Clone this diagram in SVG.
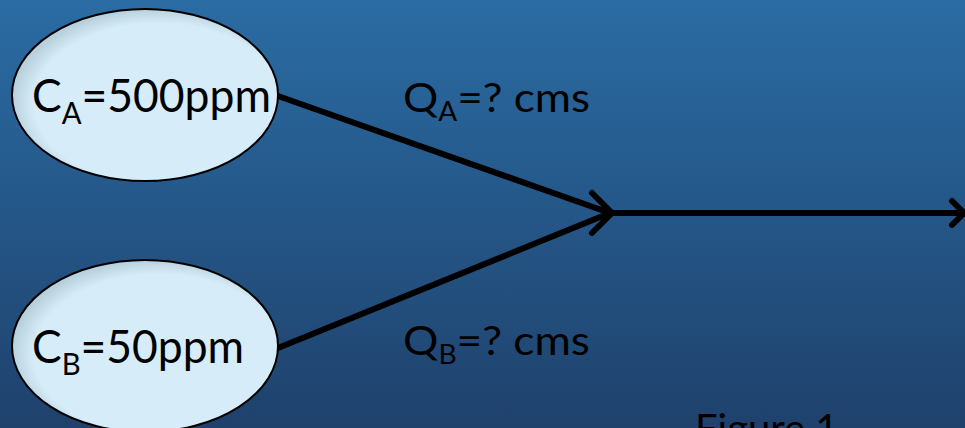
<svg xmlns="http://www.w3.org/2000/svg" width="965" height="428" viewBox="0 0 965 428">
<defs>
<linearGradient id="bg" x1="0" y1="0" x2="0" y2="1">
<stop offset="0" stop-color="#2a6ca3"/>
<stop offset="1" stop-color="#1f416c"/>
</linearGradient>
<radialGradient id="ef" cx="0.55" cy="0.55" r="0.55">
<stop offset="0.85" stop-color="#d6edf9"/>
<stop offset="1" stop-color="#b9d0dd"/>
</radialGradient>
<style>
.node{fill:url(#ef);stroke:#000;stroke-width:2}
.t{font-family:"Lato","Open Sans","Liberation Sans",sans-serif;fill:#000}
.big{font-size:47px}
.lab{font-size:41px}
.ln{stroke:#000;stroke-width:6;fill:none;stroke-linecap:round;stroke-linejoin:round}
</style>
</defs>
<rect width="965" height="428" fill="url(#bg)"/>
<g id="connectors">
<line class="ln" x1="278" y1="96" x2="610" y2="213"/>
<line class="ln" x1="278" y1="348" x2="610" y2="213"/>
<polyline class="ln" points="592,193 612,213 592,233"/>
<line class="ln" x1="612" y1="213" x2="965" y2="213"/>
<polyline class="ln" points="952,201 964,213 952,225"/>
</g>
<g id="nodeA">
<ellipse class="node" cx="145" cy="95" rx="133" ry="86"/>
<text class="t big" x="32" y="112" textLength="239" lengthAdjust="spacingAndGlyphs">C<tspan font-size="31" dy="12">A</tspan><tspan dy="-12">=500ppm</tspan></text>
</g>
<g id="nodeB">
<ellipse class="node" cx="145" cy="346" rx="133" ry="86"/>
<text class="t big" x="32" y="363" textLength="212" lengthAdjust="spacingAndGlyphs">C<tspan font-size="31" dy="12">B</tspan><tspan dy="-12">=50ppm</tspan></text>
</g>
<g id="labelQA">
<text class="t lab" x="403" y="112" textLength="187" lengthAdjust="spacingAndGlyphs">Q<tspan font-size="26" dy="9">A</tspan><tspan dy="-9">=? cms</tspan></text>
</g>
<g id="labelQB">
<text class="t lab" x="403" y="355" textLength="187" lengthAdjust="spacingAndGlyphs">Q<tspan font-size="26" dy="9">B</tspan><tspan dy="-9">=? cms</tspan></text>
</g>
<text class="t" font-size="40" x="695" y="443">Figure 1</text>
</svg>
